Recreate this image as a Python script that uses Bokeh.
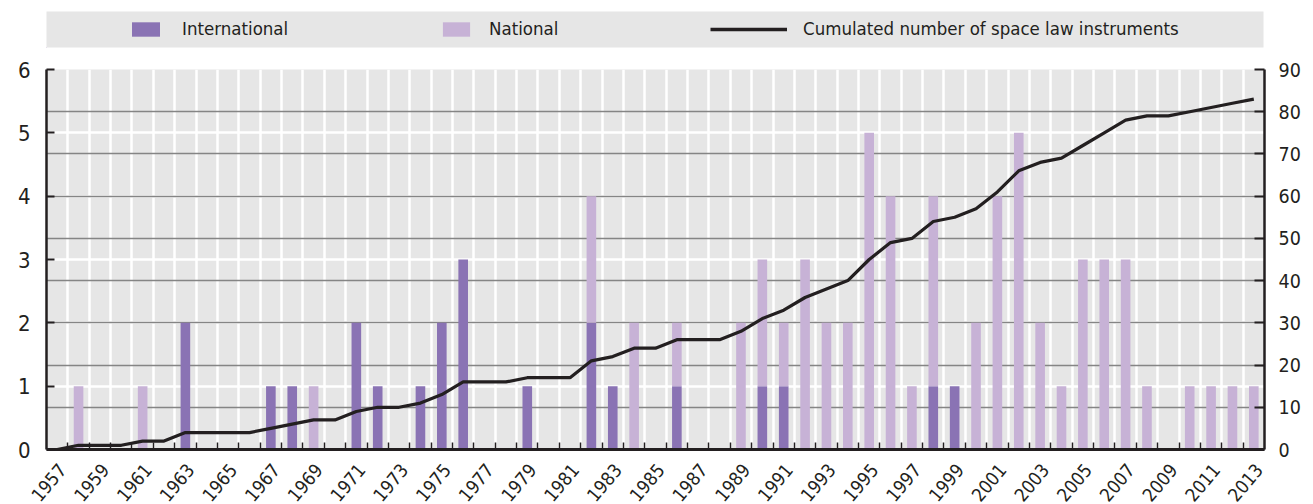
import math
from bokeh.plotting import figure
from bokeh.layouts import column
from bokeh.models import (Range1d, LinearAxis, FixedTicker, Grid, Legend, LegendItem,
                          ColumnDataSource)
from bokeh.embed import file_html
from bokeh.resources import INLINE

years = list(range(1957, 2014))
international = [0, 0, 0, 0, 0, 0, 2, 0, 0, 0,
                 1, 1, 0, 0, 2, 1, 0, 1, 2, 3,
                 0, 0, 1, 0, 0, 2, 1, 0, 0, 1,
                 0, 0, 0, 1, 1, 0, 0, 0, 0, 0,
                 0, 1, 1, 0, 0, 0, 0, 0, 0, 0,
                 0, 0, 0, 0, 0, 0, 0]
national = [0, 1, 0, 0, 1, 0, 0, 0, 0, 0,
            0, 0, 1, 0, 0, 0, 0, 0, 0, 0,
            0, 0, 0, 0, 0, 2, 0, 2, 0, 1,
            0, 0, 2, 2, 1, 3, 2, 2, 5, 4,
            1, 3, 0, 2, 4, 5, 2, 1, 3, 3,
            3, 1, 0, 1, 1, 1, 1]
cumulated = [0, 1, 1, 1, 2, 2, 4, 4, 4, 4,
             5, 6, 7, 7, 9, 10, 10, 11, 13, 16,
             16, 16, 17, 17, 17, 21, 22, 24, 24, 26,
             26, 26, 28, 31, 33, 36, 38, 40, 45, 49,
             50, 54, 55, 57, 61, 66, 68, 69, 72, 75,
             78, 79, 79, 80, 81, 82, 83]
left_ticks = [0, 1, 2, 3, 4, 5, 6]
right_ticks = [0, 10, 20, 30, 40, 50, 60, 70, 80, 90]
label_years = years[::2]
series_names = ["International", "National"]
line_name = "Cumulated number of space law instruments"

FONT = "Liberation Sans Narrow, DejaVu Sans Condensed, Roboto Condensed, Roboto, sans-serif"
TXT = "#231f20"
C_INT = "#8a73b4"
C_NAT = "#c7b2d6"
BG = "#e6e6e6"

src = ColumnDataSource(dict(year=years, International=international,
                            National=national, cum=cumulated))

# ---------------- legend strip ----------------
lf = figure(frame_width=1217, frame_height=36, output_backend="svg", toolbar_location=None,
            x_range=Range1d(0, 1), y_range=Range1d(0, 1),
            min_border_left=46, min_border_right=42, min_border_top=11, min_border_bottom=8,
            x_axis_type=None, y_axis_type=None)
lf.background_fill_color = BG
lf.border_fill_color = "white"
lf.outline_line_color = None
lf.xgrid.visible = False
lf.ygrid.visible = False
# off-screen proxies, only used for the legend swatches
proxy = ColumnDataSource(dict(x=[-10, -9], y=[-10, -9]))
d_int = lf.vbar(x="x", top="y", width=0.1, source=proxy, fill_color=C_INT, line_color=None)
d_nat = lf.vbar(x="x", top="y", width=0.1, source=proxy, fill_color=C_NAT, line_color=None)
d_line = lf.line(x="x", y="y", source=proxy, line_color=TXT, line_width=3.5)


def mk_legend(item, loc, gw, standoff):
    lg = Legend(items=[item], location=loc, orientation="horizontal",
                glyph_width=gw, glyph_height=18, label_height=18, label_standoff=standoff,
                padding=0, margin=0, border_line_color=None, background_fill_alpha=0,
                label_text_font=FONT, label_text_font_size="18.5px", label_text_color=TXT)
    lf.add_layout(lg)


mk_legend(LegendItem(label=series_names[0], renderers=[d_int]), (82, 8), 35, 19)
mk_legend(LegendItem(label=series_names[1], renderers=[d_nat]), (393, 8), 34, 16)
mk_legend(LegendItem(label=line_name, renderers=[d_line]), (664, 8), 77, 16)

# ---------------- main chart ----------------
p = figure(frame_width=1218, frame_height=380, output_backend="svg", toolbar_location=None,
           x_range=Range1d(years[0] - 0.5, years[-1] + 0.5), y_range=Range1d(0, 6),
           min_border_left=46, min_border_right=41, min_border_top=14, min_border_bottom=50,
           x_axis_type=None, y_axis_type=None)
p.background_fill_color = BG
p.border_fill_color = "white"
p.outline_line_color = None
p.extra_y_ranges = {"right": Range1d(0, 90)}

boundaries = [y + 0.5 for y in years[:-1]]

xg = Grid(dimension=0, ticker=FixedTicker(ticks=boundaries), grid_line_color="white",
          grid_line_width=2.5)
yg = Grid(dimension=1, ticker=FixedTicker(ticks=left_ticks), grid_line_color="white",
          grid_line_width=2.5)
rg = Grid(dimension=1, y_range_name="right", ticker=FixedTicker(ticks=right_ticks[1:-1]),
          grid_line_color="#858585", grid_line_width=1.3)
p.add_layout(xg)
p.add_layout(yg)
p.add_layout(rg)

# year labels sit slightly right of the bar centres, as in the original
label_pos = [y + 0.25 for y in label_years]
xaxis = LinearAxis(ticker=FixedTicker(ticks=label_pos, minor_ticks=boundaries))
xaxis.major_label_overrides = {t: str(y) for t, y in zip(label_pos, label_years)}
xaxis.major_tick_line_color = None
xaxis.minor_tick_in = 7
xaxis.minor_tick_out = 0
xaxis.minor_tick_line_color = TXT
xaxis.minor_tick_line_width = 1.5
xaxis.axis_line_color = TXT
xaxis.axis_line_width = 3
xaxis.major_label_orientation = 0.87
xaxis.major_label_standoff = 11
xaxis.major_label_text_font = FONT
xaxis.major_label_text_font_size = "18.5px"
xaxis.major_label_text_color = TXT
p.add_layout(xaxis, "below")

yaxis = LinearAxis(ticker=FixedTicker(ticks=left_ticks))
yaxis.major_tick_in = 8
yaxis.major_tick_out = 0
yaxis.major_tick_line_width = 2
yaxis.major_tick_line_color = TXT
yaxis.minor_tick_line_color = None
yaxis.axis_line_color = TXT
yaxis.axis_line_width = 2.5
yaxis.major_label_standoff = 16
yaxis.major_label_text_font = FONT
yaxis.major_label_text_font_size = "22px"
yaxis.major_label_text_color = TXT
p.add_layout(yaxis, "left")

raxis = LinearAxis(y_range_name="right", ticker=FixedTicker(ticks=right_ticks))
raxis.major_tick_in = 10
raxis.major_tick_out = 0
raxis.major_tick_line_width = 2
raxis.major_tick_line_color = TXT
raxis.minor_tick_line_color = None
raxis.axis_line_color = TXT
raxis.axis_line_width = 2.5
raxis.major_label_standoff = 14
raxis.major_label_text_font = FONT
raxis.major_label_text_font_size = "19.5px"
raxis.major_label_text_color = TXT
p.add_layout(raxis, "right")

bars = p.vbar_stack(series_names, x="year", width=0.45, source=src,
                    color=[C_INT, C_NAT], line_color=None)
line = p.line(x="year", y="cum", source=src, y_range_name="right",
              line_color=TXT, line_width=3.2)

layout = column(lf, p, spacing=0)
open("out.html", "w").write(file_html(layout, INLINE))
